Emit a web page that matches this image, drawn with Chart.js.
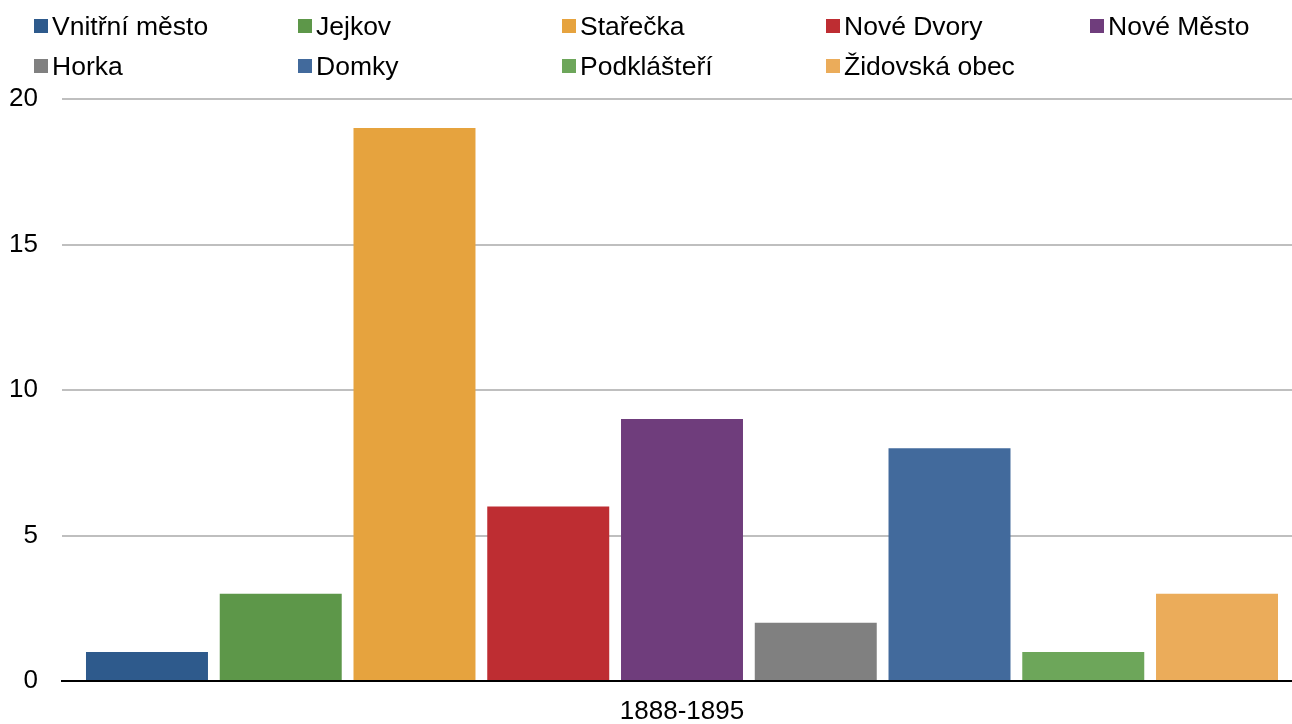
<!DOCTYPE html>
<html>
<head>
<meta charset="utf-8">
<script src="https://cdn.jsdelivr.net/npm/chart.js@4/dist/chart.umd.min.js"></script>
<style>
  html, body { margin:0; padding:0; background:#fff; overflow:hidden; }
  body { width:1292px; height:724px; position:relative; font-family:"Liberation Sans", Arial, sans-serif; }
  #wrap { position:absolute; left:0; top:0; width:1302px; height:724px; }
  #legend { position:absolute; left:0; top:0; width:1292px; height:90px; }
  .item { position:absolute; height:30px; line-height:30px; font-size:26.5px; color:#000; white-space:nowrap; }
  .box { position:absolute; left:0; top:8px; width:14px; height:14px; }
  .lbl { position:absolute; left:18px; top:0; }
</style>
</head>
<body>
<div id="wrap"><canvas id="c" width="1302" height="724"></canvas></div>
<div id="legend"></div>
<script>
const categories = ["1888-1895"];
const seriesNames = ["Vnitřní město","Jejkov","Stařečka","Nové Dvory","Nové Město","Horka","Domky","Podklášteří","Židovská obec"];
const seriesValues = [[1],[3],[19],[6],[9],[2],[8],[1],[3]];
const seriesColors = ["#2E5A8C","#5D9749","#E6A33E","#BE2D32","#6F3D7C","#808080","#426A9C","#6DA65A","#EBAC5A"];
const yTicks = [0,5,10,15,20];

// HTML legend (2 rows x 5 columns)
const legend = document.getElementById('legend');
seriesNames.forEach((name, i) => {
  const col = i % 5, row = Math.floor(i / 5);
  const it = document.createElement('div');
  it.className = 'item';
  it.style.left = (34 + col * 264) + 'px';
  it.style.top = (11 + row * 40) + 'px';
  it.innerHTML = '<span class="box" style="background:' + seriesColors[i] + '"></span><span class="lbl"></span>';
  it.querySelector('.lbl').textContent = name;
  legend.appendChild(it);
});

new Chart(document.getElementById('c'), {
  type: 'bar',
  data: {
    labels: categories,
    datasets: seriesNames.map((n, i) => ({
      label: n,
      data: seriesValues[i],
      backgroundColor: seriesColors[i],
      borderWidth: 0,
      categoryPercentage: 0.9708,
      barPercentage: 0.912
    }))
  },
  options: {
    responsive: false,
    animation: false,
    layout: { padding: { top: 99, left: 0, right: 0, bottom: 0 } },
    plugins: { legend: { display: false }, tooltip: { enabled: false } },
    scales: {
      x: {
        afterFit: (axis) => { axis.height = 43; },
        grid: { display: false, drawTicks: false },
        border: { display: true, color: '#000', width: 2 },
        ticks: { color: '#000', font: { family: 'Liberation Sans', size: 26 }, padding: 15 }
      },
      y: {
        min: 0, max: 20,
        afterBuildTicks: (axis) => { axis.ticks = yTicks.map(v => ({ value: v })); },
        afterFit: (axis) => { axis.width = 62; },
        grid: { color: '#BFBFBF', lineWidth: 2, drawTicks: false },
        border: { display: false },
        ticks: { color: '#000', font: { family: 'Liberation Sans', size: 26 }, padding: 24 }
      }
    }
  }
});
</script>
</body>
</html>
